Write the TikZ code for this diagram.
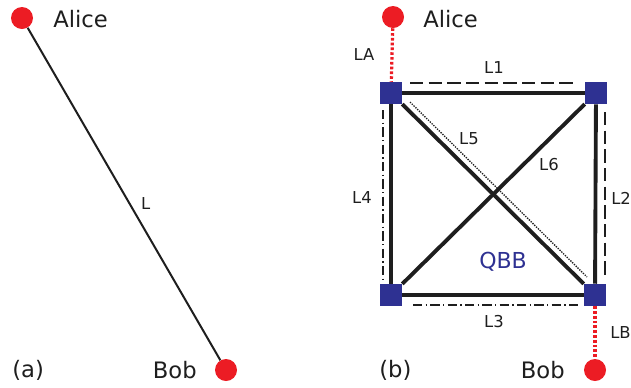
\documentclass[tikz,border=0pt]{standalone}
\usepackage{fontspec}
\setmainfont{DejaVu Sans}
\usetikzlibrary{positioning,calc}
\definecolor{dotred}{RGB}{236,28,36}
\definecolor{qbbblue}{RGB}{46,49,146}
\definecolor{inkblack}{RGB}{30,30,30}

\begin{document}
\begin{tikzpicture}[
  x=0.75pt, y=-0.75pt,
  party/.style={circle, fill=dotred, inner sep=0pt, minimum size=16.5pt},
  qnode/.style={rectangle, fill=qbbblue, inner sep=0pt, minimum size=16.5pt},
  who/.style={font=\fontsize{17}{20}\selectfont, text=inkblack, inner sep=0pt},
  lbl/.style={font=\fontsize{12.3}{14}\selectfont, text=inkblack, inner sep=0pt},
  fibre/.style={draw=inkblack, line width=1.5pt},
  link/.style={draw=inkblack, line width=2.9pt},
  access/.style={draw=dotred, line width=2.4pt, dash pattern=on 2pt off 1.6pt},
  route/.style={draw=inkblack, line width=0.8pt}
]
\useasboundingbox (0,0) rectangle (631,387);

% (a)
\node[party] (aliceA) at (22,18) {};
\node[party] (bobA) at (226,370) {};
\node[who, anchor=west] (aliceAtxt) at (53,19) {Alice};
\node[who, anchor=east] (bobAtxt) at (197,370) {Bob};
\node[who, anchor=west] (capA) at (12,370) {(a)};
\draw[fibre] (aliceA) -- node[lbl, pos=0.53, xshift=12pt] {L} (bobA);

% (b)
\node[party] (aliceB) at (393,17) {};
\node[party] (bobB) at (595,370) {};
\node[who, anchor=west] (aliceBtxt) at (423,19) {Alice};
\node[who, anchor=east] (bobBtxt) at (565,370) {Bob};
\node[who, anchor=west] (capB) at (379,370) {(b)};

\node[qnode] (tl) at (391,93) {};
\node[qnode] (tr) at (596,93) {};
\node[qnode] (bl) at (391,295) {};
\node[qnode] (br) at (595,295) {};

\draw[link] (tl) -- (tr);
\draw[link] (tr) -- (br);
\draw[link] (br) -- (bl);
\draw[link] (bl) -- (tl);
\draw[link] (tl) -- (br);
\draw[link] (bl) -- (tr);

\draw[access] (aliceB) -- (tl);
\draw[access] (br) -- (bobB);

\coordinate (l1a) at (410,83);  \coordinate (l1b) at (575,83);
\coordinate (l2a) at (605,112); \coordinate (l2b) at (605,277);
\coordinate (l3a) at (413,305); \coordinate (l3b) at (578,305);
\coordinate (l4a) at (383,110); \coordinate (l4b) at (383,282);
\coordinate (l5a) at (410,102); \coordinate (l5b) at (587,277);

\draw[route, dash pattern=on 10pt off 4pt] (l1a) -- (l1b);
\draw[route, dash pattern=on 10pt off 4pt] (l2a) -- (l2b);
\draw[route, dash pattern=on 7pt off 2.5pt on 1pt off 2.5pt] (l3a) -- (l3b);
\draw[route, dash pattern=on 7pt off 2.5pt on 1pt off 2.5pt] (l4a) -- (l4b);
\draw[route, line width=1pt, dash pattern=on 1pt off 0.9pt] (l5a) -- (l5b);

\node[lbl] (la) at (364,55) {LA};
\node[lbl, anchor=west] (lb) at (610,333) {LB};
\node[lbl] (n1) at (494,68) {L1};
\node[lbl, anchor=west] (n2) at (611,198) {L2};
\node[lbl] (n3) at (494,322) {L3};
\node[lbl] (n4) at (362,198) {L4};
\node[lbl] (n5) at (469,139) {L5};
\node[lbl] (n6) at (549,165) {L6};
\node[font=\fontsize{16.5}{20}\selectfont, text=qbbblue, inner sep=0pt] (qbb) at (503,262) {QBB};
\end{tikzpicture}
\end{document}
